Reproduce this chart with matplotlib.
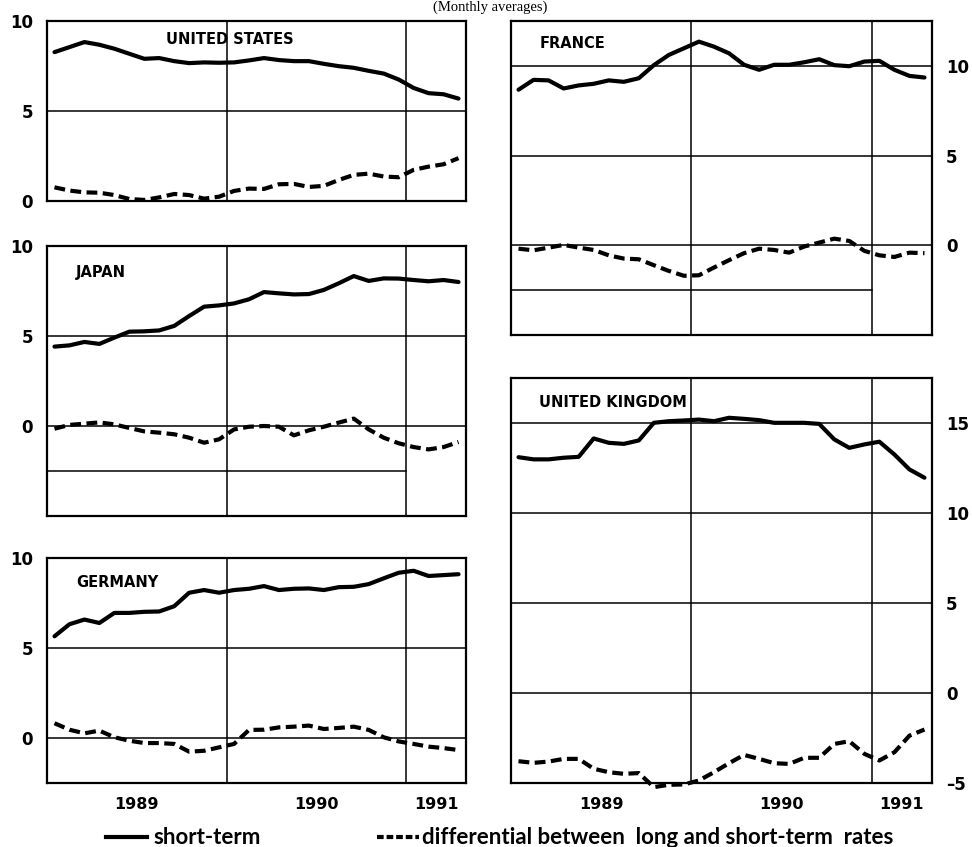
import matplotlib
matplotlib.use("Agg")
import matplotlib.pyplot as plt
from matplotlib.lines import Line2D
from matplotlib import font_manager as fm
import numpy as np

# ---------------- data (monthly, Jan 1989 - Apr 1991) ----------------
months = list(range(28))
year_labels = ["1989", "1990", "1991"]
year_label_pos = [6, 18, 26]
year_bounds = [12, 24]

us_short = [8.27, 8.55, 8.83, 8.68, 8.46, 8.18, 7.90, 7.94, 7.77, 7.66, 7.70, 7.68, 7.70, 7.81,
            7.94, 7.83, 7.77, 7.77, 7.62, 7.49, 7.40, 7.23, 7.08, 6.75, 6.28, 5.99, 5.93, 5.69]
us_diff = [0.76, 0.58, 0.48, 0.46, 0.33, 0.11, 0.06, 0.20, 0.39, 0.33, 0.13, 0.24, 0.56, 0.69,
           0.67, 0.93, 0.95, 0.78, 0.84, 1.17, 1.45, 1.52, 1.36, 1.32, 1.73, 1.91, 2.04, 2.38]

jp_short = [4.41, 4.48, 4.67, 4.56, 4.91, 5.24, 5.26, 5.31, 5.56, 6.11, 6.63, 6.70, 6.81, 7.04,
            7.44, 7.37, 7.31, 7.33, 7.56, 7.93, 8.33, 8.06, 8.20, 8.19, 8.11, 8.04, 8.11, 8.00]
jp_diff = [-0.15, 0.06, 0.13, 0.20, 0.09, -0.11, -0.30, -0.37, -0.46, -0.65, -0.93, -0.74, -0.19, -0.04,
           0.00, -0.04, -0.52, -0.24, -0.04, 0.19, 0.41, -0.19, -0.65, -0.96, -1.17, -1.30, -1.17, -0.89]

de_short = [5.65, 6.32, 6.58, 6.39, 6.95, 6.95, 7.01, 7.03, 7.32, 8.07, 8.22, 8.07, 8.22, 8.29,
            8.44, 8.22, 8.29, 8.31, 8.22, 8.38, 8.40, 8.55, 8.87, 9.18, 9.29, 9.00, 9.05, 9.10]
de_diff = [0.82, 0.46, 0.26, 0.41, 0.04, -0.15, -0.28, -0.28, -0.33, -0.76, -0.71, -0.52, -0.33, 0.45,
           0.46, 0.59, 0.63, 0.69, 0.50, 0.56, 0.63, 0.45, 0.04, -0.19, -0.33, -0.48, -0.56, -0.67]

fr_short = [8.67, 9.22, 9.19, 8.74, 8.91, 9.00, 9.19, 9.11, 9.31, 10.04, 10.61, 10.98, 11.35, 11.07,
            10.70, 10.06, 9.78, 10.06, 10.06, 10.20, 10.37, 10.04, 9.98, 10.24, 10.28, 9.78, 9.44, 9.35]
fr_diff = [-0.19, -0.28, -0.13, 0.02, -0.13, -0.26, -0.56, -0.74, -0.78, -1.11, -1.43, -1.70, -1.67, -1.24,
           -0.83, -0.44, -0.19, -0.26, -0.41, -0.07, 0.15, 0.37, 0.24, -0.31, -0.56, -0.65, -0.41, -0.44]

uk_short = [13.10, 12.98, 12.98, 13.07, 13.12, 14.14, 13.90, 13.84, 14.03, 15.01, 15.10, 15.14, 15.19, 15.10,
            15.29, 15.23, 15.16, 15.01, 15.01, 15.01, 14.95, 14.09, 13.62, 13.81, 13.96, 13.25, 12.42, 11.96]
uk_diff = [-3.79, -3.88, -3.81, -3.66, -3.66, -4.21, -4.40, -4.49, -4.45, -5.23, -5.10, -5.08, -4.86, -4.40,
           -3.90, -3.44, -3.66, -3.90, -3.94, -3.60, -3.60, -2.83, -2.68, -3.38, -3.75, -3.29, -2.37, -2.03]

legend_labels = ["short-term", "differential between  long and short-term  rates"]
title_text = "(Monthly averages)"

# ---------------- styling ----------------
W, H = 972, 847
names = {f.name for f in fm.fontManager.ttflist}
if "Liberation Sans Narrow" in names:
    LAB_FONT = ["Liberation Sans Narrow", "DejaVu Sans"]
    LAB_SIZE, YEAR_SIZE, NAME_SIZE = 14, 13, 12.2
else:
    LAB_FONT = ["DejaVu Sans"]
    LAB_SIZE, YEAR_SIZE, NAME_SIZE = 12, 11.5, 10.5
LEG_FONT = ["Lato", "DejaVu Sans"]
LW = 3.0
DASH = (2.6, 1.3)

fig = plt.figure(figsize=(W / 100, H / 100), dpi=100)

def frac_rect(x0, y0, x1, y1):
    return [x0 / W, 1 - y1 / H, (x1 - x0) / W, (y1 - y0) / H]

panels = [
    dict(name="UNITED STATES", rect=frac_rect(47, 21, 466, 201), ylim=(0, 10), ticks=[0, 5, 10],
         grid=[5], partial=None, short=us_short, diff=us_diff, side="left", xlab=False, tx=166, ty=40),
    dict(name="JAPAN", rect=frac_rect(47, 246, 466, 516), ylim=(-5, 10), ticks=[0, 5, 10],
         grid=[5, 0], partial=-2.5, short=jp_short, diff=jp_diff, side="left", xlab=False, tx=76, ty=272),
    dict(name="GERMANY", rect=frac_rect(47, 558, 466, 783), ylim=(-2.5, 10), ticks=[0, 5, 10],
         grid=[5, 0], partial=None, short=de_short, diff=de_diff, side="left", xlab=True, tx=76, ty=582),
    dict(name="FRANCE", rect=frac_rect(511, 21, 932, 335), ylim=(-5, 12.5), ticks=[0, 5, 10],
         grid=[10, 5, 0], partial=-2.5, short=fr_short, diff=fr_diff, side="right", xlab=False, tx=540, ty=43),
    dict(name="UNITED KINGDOM", rect=frac_rect(511, 378, 932, 783), ylim=(-5, 17.5), ticks=[-5, 0, 5, 10, 15],
         grid=[15, 10, 5, 0], partial=None, short=uk_short, diff=uk_diff, side="right", xlab=True, tx=539, ty=402),
]

x = np.array(months) + 0.5

for p in panels:
    ax = fig.add_axes(p["rect"])
    ax.set_xlim(0, 28)
    ax.set_ylim(*p["ylim"])
    for s in ax.spines.values():
        s.set_linewidth(1.6)
        s.set_color("black")
    for g in p["grid"]:
        ax.axhline(g, color="black", lw=1.1, zorder=1)
    if p["partial"] is not None:
        ax.axhline(p["partial"], xmin=0, xmax=24 / 28, color="black", lw=1.1, zorder=1)
    for b in year_bounds:
        ax.axvline(b, color="black", lw=1.1, zorder=1)
    ax.plot(x, p["short"], color="black", lw=LW, solid_joinstyle="round", solid_capstyle="round", zorder=3)
    ax.plot(x, p["diff"], color="black", lw=LW, dashes=DASH, zorder=3, clip_on=False)
    ax.set_yticks(p["ticks"])
    ax.set_yticklabels([str(t).replace("-", "\u2013") for t in p["ticks"]],
                       fontfamily=LAB_FONT, fontweight="bold", fontsize=LAB_SIZE)
    if p["side"] == "right":
        ax.yaxis.tick_right()
        ax.tick_params(axis="y", length=0, pad=10)
    else:
        ax.tick_params(axis="y", length=0, pad=10)
    if p["xlab"]:
        ax.set_xticks(year_label_pos)
        ax.set_xticklabels(year_labels, fontfamily=LAB_FONT, fontweight="bold", fontsize=YEAR_SIZE)
        ax.tick_params(axis="x", length=0, pad=10)
    else:
        ax.set_xticks([])
    fig.text(p["tx"] / W, 1 - p["ty"] / H, p["name"], fontfamily=LAB_FONT, fontweight="bold",
             fontsize=NAME_SIZE, ha="left", va="center")

# title (sits in the thin strip above the panels)
fig.text(490 / W, 1 - 1 / H, title_text, fontfamily=["Liberation Serif", "DejaVu Serif"],
         fontsize=10.5, ha="center", va="top")

# legend
ly = 1 - 837 / H
fig.add_artist(Line2D([106 / W, 147 / W], [ly, ly], color="black", lw=LW, transform=fig.transFigure))
fig.text(153 / W, ly, legend_labels[0], fontfamily=LEG_FONT, fontweight="bold", fontsize=16,
         ha="left", va="center")
fig.add_artist(Line2D([377 / W, 419 / W], [ly, ly], color="black", lw=LW, dashes=(1.6, 0.7),
                      transform=fig.transFigure))
fig.text(422 / W, ly, legend_labels[1], fontfamily=LEG_FONT, fontweight="bold", fontsize=16,
         ha="left", va="center")

fig.savefig("out.png", dpi=100)
